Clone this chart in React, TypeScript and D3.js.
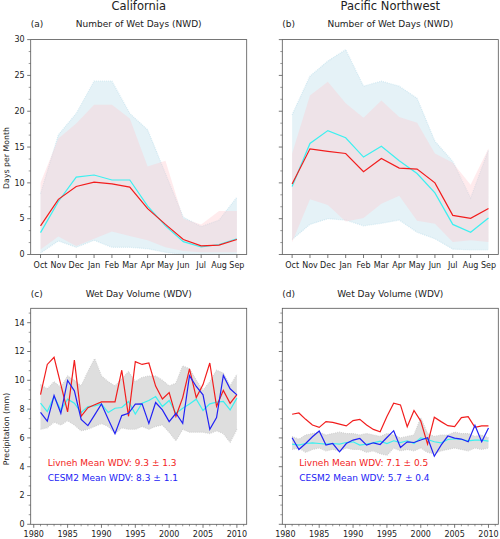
import React from "react";
import * as d3 from "d3";

// ---------- DATA ----------
const months = ["Oct", "Nov", "Dec", "Jan", "Feb", "Mar", "Apr", "May", "Jun", "Jul", "Aug", "Sep"];

// California NWD
const caLivnehNWD = [4.0, 7.7, 9.5, 10.1, 9.85, 9.4, 6.4, 4.2, 2.1, 1.2, 1.3, 2.1];
const caCesmNWD = [3.05, 7.4, 10.8, 11.1, 10.4, 10.4, 6.75, 4.0, 1.8, 1.05, 1.4, 2.2];
const caCesmHi = [8.5, 16.7, 19.7, 24.2, 24.2, 19.7, 17.4, 11.3, 5.2, 3.9, 4.8, 8.0];
const caCesmLo = [0.2, 1.9, 1.0, 2.0, 1.0, 1.0, 0.8, 0.3, 0.0, 0.0, 0.0, 0.0];
const caLivnehHi = [10.0, 16.2, 18.3, 20.9, 20.9, 19.0, 12.3, 13.1, 5.0, 4.2, 6.07, 6.07];
const caLivnehLo = [0.7, 2.5, 1.2, 2.2, 3.2, 2.6, 2.0, 1.0, 0.5, 0.3, 0.3, 0.3];

// Pacific Northwest NWD
const pnwLivnehNWD = [9.85, 14.75, 14.4, 14.1, 11.56, 13.4, 12.07, 11.93, 10.0, 5.46, 5.04, 6.43];
const pnwCesmNWD = [9.5, 15.5, 17.3, 16.3, 13.6, 15.1, 13.1, 11.3, 8.6, 4.2, 3.1, 5.1];
const pnwCesmHi = [19.5, 24.9, 27.0, 28.6, 23.5, 24.2, 23.5, 21.8, 15.8, 13.0, 7.9, 14.6];
const pnwCesmLo = [2.1, 4.2, 5.0, 4.8, 4.0, 4.35, 4.8, 3.1, 2.2, 0.75, 0.65, 0.65];
const pnwLivnehHi = [14.1, 22.2, 24.1, 21.1, 19.1, 21.5, 19.2, 18.4, 14.1, 12.8, 9.75, 14.8];
const pnwLivnehLo = [1.7, 7.7, 6.9, 4.6, 5.1, 7.1, 8.2, 4.7, 4.3, 1.75, 2.0, 1.75];

// Wet Day Volume, 1981-2010
const years = d3.range(1981, 2011);
const caLivnehWDV = [9.0, 11.1, 11.6, 9.7, 7.8, 11.4, 7.5, 8.1, 8.3, 8.5, 8.5, 8.5, 10.7, 7.5, 11.3, 11.1, 11.2, 9.6, 8.7, 9.15, 7.5, 8.8, 10.8, 8.8, 9.7, 11.2, 8.2, 9.3, 8.4, 9.0];
const caCesmWDV = [7.78, 7.17, 8.94, 7.71, 9.99, 9.27, 7.29, 6.85, 7.6, 8.36, 7.3, 6.29, 7.55, 7.71, 8.34, 8.36, 7.01, 8.46, 7.94, 7.13, 7.71, 7.01, 10.32, 9.57, 8.99, 6.59, 7.41, 10.34, 9.41, 8.99];
const caEnsWDV = [8.41, 7.83, 8.87, 7.94, 8.69, 8.41, 7.76, 8.18, 8.22, 8.36, 7.76, 8.06, 8.11, 8.53, 7.66, 8.41, 8.6, 8.87, 8.18, 8.6, 7.71, 8.06, 8.36, 8.69, 7.9, 8.36, 8.48, 8.53, 7.94, 8.76];
const caEnsHi = [9.7, 9.4, 9.9, 9.5, 10.3, 10.0, 9.6, 10.6, 11.5, 10.3, 9.9, 9.6, 10.1, 10.6, 9.9, 10.2, 10.3, 10.3, 10.0, 9.6, 9.8, 11.0, 10.8, 10.0, 9.3, 9.9, 10.7, 10.5, 9.6, 10.4];
const caEnsLo = [6.6, 6.7, 7.1, 6.9, 7.2, 6.9, 6.5, 6.6, 6.8, 7.0, 6.8, 6.3, 6.7, 6.6, 6.6, 6.8, 6.6, 6.8, 6.9, 6.4, 5.8, 6.6, 6.4, 6.4, 6.4, 6.3, 6.5, 6.3, 5.7, 6.6];

const pnwLivnehWDV = [7.64, 7.73, 7.29, 6.9, 6.73, 7.13, 7.08, 6.96, 6.83, 7.2, 7.29, 6.9, 6.59, 6.43, 7.48, 8.41, 8.29, 6.78, 7.9, 7.17, 5.57, 7.43, 7.13, 6.85, 6.78, 7.41, 7.48, 6.73, 6.83, 6.83];
const pnwCesmWDV = [6.01, 5.19, 5.61, 6.08, 6.48, 5.5, 5.61, 5.03, 5.61, 5.85, 5.96, 5.5, 5.66, 5.54, 6.03, 6.5, 5.33, 5.73, 5.68, 5.85, 6.01, 4.73, 5.5, 6.13, 5.99, 5.92, 5.73, 6.87, 5.73, 6.69];
const pnwEnsWDV = [5.57, 5.5, 5.61, 5.66, 5.61, 5.57, 5.61, 5.57, 5.68, 5.73, 5.5, 5.57, 5.66, 5.78, 5.61, 5.8, 5.68, 5.8, 5.61, 6.0, 5.89, 5.73, 5.66, 5.89, 5.94, 5.89, 5.8, 5.85, 5.85, 5.78];
const pnwEnsHi = [6.1, 5.9, 6.2, 6.3, 6.4, 6.2, 6.3, 6.4, 6.3, 6.3, 6.2, 6.3, 6.2, 6.1, 6.3, 6.2, 6.0, 6.1, 6.2, 7.4, 6.3, 6.1, 6.2, 6.2, 6.4, 6.3, 6.3, 6.1, 6.2, 6.0];
const pnwEnsLo = [5.2, 5.3, 5.0, 5.2, 5.3, 5.1, 5.2, 5.1, 5.3, 5.2, 5.2, 5.0, 5.1, 4.9, 4.8, 5.3, 5.1, 5.2, 5.1, 5.3, 5.0, 4.9, 5.1, 5.2, 5.3, 5.2, 5.1, 5.3, 5.2, 5.3];

const nwdTicks = [0, 5, 10, 15, 20, 25, 30];
const wdvTicks = [0, 2, 4, 6, 8, 10, 12, 14];
const yearTicks = [1980, 1985, 1990, 1995, 2000, 2005, 2010];

// ---------- STYLE ----------
const FONT = "DejaVu Sans";
const RED = "#f21d1d";
const CYAN = "#3cf0f0";
const BLUE = "#2222f5";
const AXIS = "#555";
const TXT = "#222";

const COLS = [
  { x0: 30.7, x1: 246.7 },
  { x0: 282.3, x1: 498.3 },
];
const TOP = { y0: 39.6, y1: 254.5 };
const BOT = { y0: 308.3, y1: 524.3 };

type MonthlyProps = {
  col: number;
  title: string;
  letter: string;
  livneh: number[];
  cesm: number[];
  cHi: number[];
  cLo: number[];
  lHi: number[];
  lLo: number[];
  showY: boolean;
};

function YAxis({ y, x0, major, minor, labels }: any) {
  return (
    <g>
      {minor.map((v: number, i: number) => (
        <line key={"m" + i} x1={x0} x2={x0 - 2} y1={y(v)} y2={y(v)} stroke={AXIS} strokeWidth={0.6} />
      ))}
      {major.map((v: number, i: number) => (
        <g key={"M" + i}>
          <line x1={x0} x2={x0 - 3.5} y1={y(v)} y2={y(v)} stroke={AXIS} strokeWidth={0.8} />
          {labels && (
            <text x={x0 - 6} y={y(v)} dy="0.35em" textAnchor="end" fontSize={8} fill={TXT} fontFamily={FONT}>
              {v}
            </text>
          )}
        </g>
      ))}
    </g>
  );
}

function MonthlyPanel(p: MonthlyProps) {
  const { x0, x1 } = COLS[p.col];
  const x = d3.scaleLinear().domain([-0.55, 11.55]).range([x0, x1]);
  const y = d3.scaleLinear().domain([0, 30]).range([TOP.y1, TOP.y0]);
  const idx = d3.range(months.length);
  const area = (hi: number[], lo: number[]) =>
    d3.area<number>().x((i) => x(i)).y0((i) => y(lo[i])).y1((i) => y(hi[i]))(idx) || "";
  const edge = (arr: number[]) => d3.line<number>().x((i) => x(i)).y((i) => y(arr[i]))(idx) || "";
  const line = (arr: number[]) => d3.line<number>().x((_, i) => x(i)).y((d) => y(d))(arr) || "";
  const minor = d3.range(0, 30.001, 5 / 3).filter((v) => Math.abs(v / 5 - Math.round(v / 5)) > 1e-6);
  const cx = (x0 + x1) / 2;
  return (
    <g>
      <path d={area(p.cHi, p.cLo)} fill="rgba(173,216,230,0.32)" stroke="none" />
      <path d={edge(p.cHi)} fill="none" stroke="rgba(173,216,230,0.45)" strokeWidth={1.2} strokeDasharray="1 1" />
      <path d={edge(p.cLo)} fill="none" stroke="rgba(173,216,230,0.45)" strokeWidth={1.2} strokeDasharray="1 1" />
      <path d={area(p.lHi, p.lLo)} fill="rgba(255,200,205,0.36)" stroke="none" />
      <path d={line(p.cesm)} fill="none" stroke={CYAN} strokeWidth={1.2} />
      <path d={line(p.livneh)} fill="none" stroke={RED} strokeWidth={1.2} />
      <rect x={x0} y={TOP.y0} width={x1 - x0} height={TOP.y1 - TOP.y0} fill="none" stroke={AXIS} strokeWidth={0.8} />
      <YAxis y={y} x0={x0} major={nwdTicks} minor={minor} labels={p.showY} />
      {months.map((m, i) => (
        <g key={m}>
          <line x1={x(i)} x2={x(i)} y1={TOP.y1} y2={TOP.y1 + 3.5} stroke={AXIS} strokeWidth={0.8} />
          <text x={x(i)} y={TOP.y1 + 13} textAnchor="middle" fontSize={8} fill={TXT} fontFamily={FONT}>
            {m}
          </text>
        </g>
      ))}
      <text x={cx} y={10} textAnchor="middle" fontSize={11.5} fill={TXT} fontFamily={FONT}>
        {p.title}
      </text>
      <text x={x0} y={26.5} fontSize={9} fill={TXT} fontFamily={FONT}>
        {p.letter}
      </text>
      <text x={cx} y={26.5} textAnchor="middle" fontSize={9} fill={TXT} fontFamily={FONT}>
        Number of Wet Days (NWD)
      </text>
      {p.showY && (
        <text transform={`translate(8.5,${158}) rotate(-90)`} textAnchor="middle" fontSize={7.8} fill={TXT} fontFamily={FONT}>
          Days per Month
        </text>
      )}
    </g>
  );
}

type AnnualProps = {
  col: number;
  letter: string;
  livneh: number[];
  cesm: number[];
  ens: number[];
  hi: number[];
  lo: number[];
  showY: boolean;
  livLabel: string;
  cesmLabel: string;
};

function AnnualPanel(p: AnnualProps) {
  const { x0, x1 } = COLS[p.col];
  const x = d3.scaleLinear().domain([1979.55, 2011.45]).range([x0, x1]);
  const y = d3.scaleLinear().domain([0, 15]).range([BOT.y1, BOT.y0]);
  const idx = d3.range(years.length);
  const area = d3.area<number>().x((i) => x(years[i])).y0((i) => y(p.lo[i])).y1((i) => y(p.hi[i]))(idx) || "";
  const edge = (arr: number[]) => d3.line<number>().x((i) => x(years[i])).y((i) => y(arr[i]))(idx) || "";
  const line = (arr: number[]) => d3.line<number>().x((_, i) => x(years[i])).y((d) => y(d))(arr) || "";
  const minor = d3.range(0, 15.001, 2 / 3).filter((v) => Math.abs(v / 2 - Math.round(v / 2)) > 1e-6);
  const minorX = d3.range(1980, 2012).filter((v) => v % 5 !== 0);
  const cx = (x0 + x1) / 2;
  return (
    <g>
      <path d={area} fill="#dedede" stroke="none" />
      <path d={edge(p.hi)} fill="none" stroke="#d2d2d2" strokeWidth={1.2} strokeDasharray="1 1" />
      <path d={edge(p.lo)} fill="none" stroke="#d2d2d2" strokeWidth={1.2} strokeDasharray="1 1" />
      <path d={line(p.ens)} fill="none" stroke={CYAN} strokeWidth={1.2} />
      <path d={line(p.livneh)} fill="none" stroke={RED} strokeWidth={1.2} />
      <path d={line(p.cesm)} fill="none" stroke={BLUE} strokeWidth={1.2} />
      <rect x={x0} y={BOT.y0} width={x1 - x0} height={BOT.y1 - BOT.y0} fill="none" stroke={AXIS} strokeWidth={0.8} />
      <YAxis y={y} x0={x0} major={wdvTicks} minor={minor} labels={p.showY} />
      {minorX.map((v) => (
        <line key={"mx" + v} x1={x(v)} x2={x(v)} y1={BOT.y1} y2={BOT.y1 + 2} stroke={AXIS} strokeWidth={0.6} />
      ))}
      {yearTicks.map((v) => (
        <g key={v}>
          <line x1={x(v)} x2={x(v)} y1={BOT.y1} y2={BOT.y1 + 3.5} stroke={AXIS} strokeWidth={0.8} />
          <text x={x(v)} y={BOT.y1 + 13} textAnchor="middle" fontSize={8} fill={TXT} fontFamily={FONT}>
            {v}
          </text>
        </g>
      ))}
      <text x={x0} y={296.5} fontSize={9} fill={TXT} fontFamily={FONT}>
        {p.letter}
      </text>
      <text x={cx} y={296.5} textAnchor="middle" fontSize={9} fill={TXT} fontFamily={FONT}>
        Wet Day Volume (WDV)
      </text>
      <text x={x0 + 17} y={466} fontSize={9} fill={RED} fontFamily={FONT}>
        {p.livLabel}
      </text>
      <text x={x0 + 17} y={480.5} fontSize={9} fill={BLUE} fontFamily={FONT}>
        {p.cesmLabel}
      </text>
      {p.showY && (
        <text transform={`translate(8.5,${429}) rotate(-90)`} textAnchor="middle" fontSize={7.8} fill={TXT} fontFamily={FONT}>
          Precipitation (mm)
        </text>
      )}
    </g>
  );
}

export default function App() {
  return (
    <svg width={500} height={539} style={{ position: "absolute", left: 0, top: 0, background: "#fff" }}>
      <rect x={0} y={0} width={500} height={539} fill="#fff" />
      <MonthlyPanel col={0} title="California" letter="(a)" livneh={caLivnehNWD} cesm={caCesmNWD}
        cHi={caCesmHi} cLo={caCesmLo} lHi={caLivnehHi} lLo={caLivnehLo} showY={true} />
      <MonthlyPanel col={1} title="Pacific Northwest" letter="(b)" livneh={pnwLivnehNWD} cesm={pnwCesmNWD}
        cHi={pnwCesmHi} cLo={pnwCesmLo} lHi={pnwLivnehHi} lLo={pnwLivnehLo} showY={false} />
      <AnnualPanel col={0} letter="(c)" livneh={caLivnehWDV} cesm={caCesmWDV} ens={caEnsWDV} hi={caEnsHi} lo={caEnsLo}
        showY={true} livLabel="Livneh Mean WDV: 9.3 ± 1.3" cesmLabel="CESM2 Mean WDV: 8.3 ± 1.1" />
      <AnnualPanel col={1} letter="(d)" livneh={pnwLivnehWDV} cesm={pnwCesmWDV} ens={pnwEnsWDV} hi={pnwEnsHi} lo={pnwEnsLo}
        showY={false} livLabel="Livneh Mean WDV: 7.1 ± 0.5" cesmLabel="CESM2 Mean WDV: 5.7 ± 0.4" />
    </svg>
  );
}
